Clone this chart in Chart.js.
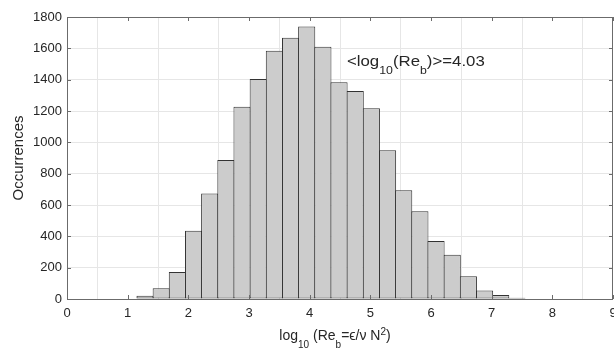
<!DOCTYPE html>
<html>
<head>
<meta charset="utf-8">
<script src="https://cdn.jsdelivr.net/npm/chart.js@4/dist/chart.umd.min.js"></script>
<style>
    html, body { margin: 0; padding: 0; background: #fff; }
    #wrap { width: 614px; height: 349px; }
</style>
</head>
<body>
<div id="wrap"><canvas id="hist"></canvas></div>
<script>
// Данные гистограммы: центры бинов log10(Re_b) и число попаданий
const binCenters = [1.286, 1.553, 1.819, 2.086, 2.352, 2.619, 2.885, 3.152, 3.418, 3.685, 3.951, 4.218,
                    4.484, 4.751, 5.017, 5.284, 5.550, 5.817, 6.083, 6.350, 6.616, 6.883, 7.149, 7.416];
const counts = [20, 68, 172, 436, 674, 887, 1227, 1404, 1585, 1668, 1740, 1610,
                1383, 1327, 1217, 949, 694, 560, 370, 283, 145, 55, 25, 8];
const xTicks = [0, 1, 2, 3, 4, 5, 6, 7, 8, 9];
const yTicks = [0, 200, 400, 600, 800, 1000, 1200, 1400, 1600, 1800];
const meanValue = '4.03';

const FONT = '"Liberation Sans", Arial, Helvetica, sans-serif';
const AXIS_COLOR = '#6b6b6b';
const TEXT_COLOR = '#262626';

// Текст с индексами: части [текст, сдвиг] (1 - нижний индекс, -1 - верхний)
function drawRich(ctx, parts, x, y, opts) {
    const {size, subSize, subShift, supShift, align, stretch} = opts;
    const fontFor = s => (s === 0 ? size : subSize) + 'px ' + FONT;
    let total = 0;
    parts.forEach(([t, s]) => {
        ctx.font = fontFor(s);
        total += ctx.measureText(t).width;
    });
    ctx.save();
    ctx.translate(x, y);
    ctx.scale(stretch || 1, 1);
    let cx = align === 'center' ? -total / 2 : 0;
    ctx.fillStyle = TEXT_COLOR;
    ctx.textBaseline = 'alphabetic';
    ctx.textAlign = 'left';
    parts.forEach(([t, s]) => {
        ctx.font = fontFor(s);
        const dy = s === 1 ? subShift : (s === -1 ? supShift : 0);
        ctx.fillText(t, cx, dy);
        cx += ctx.measureText(t).width;
    });
    ctx.restore();
}

// Рамка осей, засечки внутрь, подпись оси X и среднее значение
const matlabAxes = {
    id: 'matlabAxes',
    afterDraw(chart) {
        const {ctx, chartArea: a, scales: {x, y}} = chart;
        const tl = 4;
        ctx.save();
        ctx.strokeStyle = AXIS_COLOR;
        ctx.lineWidth = 1;
        ctx.beginPath();
        x.ticks.forEach(t => {
            const px = Math.round(x.getPixelForValue(t.value)) + 0.5;
            ctx.moveTo(px, a.bottom); ctx.lineTo(px, a.bottom - tl);
            ctx.moveTo(px, a.top); ctx.lineTo(px, a.top + tl);
        });
        y.ticks.forEach(t => {
            const py = Math.round(y.getPixelForValue(t.value)) + 0.5;
            ctx.moveTo(a.left, py); ctx.lineTo(a.left + tl, py);
            ctx.moveTo(a.right, py); ctx.lineTo(a.right - tl, py);
        });
        ctx.stroke();
        ctx.strokeRect(Math.round(a.left) + 0.5, Math.round(a.top) + 0.5,
                       Math.round(a.right - a.left) - 1, Math.round(a.bottom - a.top));
        ctx.restore();

        // подпись оси X
        drawRich(ctx, [['log', 0], ['10', 1], [' (Re', 0], ['b', 1], ['=', 0], ['\u03F5/\u03BD', 0],
                       [' N', 0], ['2', -1], [')', 0]],
                 335, 340, {size: 14, subSize: 10, subShift: 8, supShift: -5, align: 'center'});

        // среднее значение
        drawRich(ctx, [['<log', 0], ['10', 1], ['(Re', 0], ['b', 1], [')>=' + meanValue, 0]],
                 x.getPixelForValue(4.615), y.getPixelForValue(1485),
                 {size: 15, subSize: 11, subShift: 8, supShift: -6, align: 'left', stretch: 1.12});
    }
};

const ctx = document.getElementById('hist').getContext('2d');
new Chart(ctx, {
    type: 'bar',
    data: {
        datasets: [{
            data: binCenters.map((c, i) => ({x: c, y: counts[i]})),
            backgroundColor: '#cccccc',
            borderColor: '#333333',
            borderWidth: 1,
            borderSkipped: false,
            barPercentage: 1.062,
            categoryPercentage: 1.0
        }]
    },
    options: {
        responsive: true,
        maintainAspectRatio: false,
        animation: false,
        layout: { padding: { top: 17, right: 1, left: 0, bottom: 0 } },
        plugins: {
            legend: { display: false },
            tooltip: { enabled: false }
        },
        scales: {
            x: {
                type: 'linear',
                min: 0,
                max: 9,
                offset: false,
                afterBuildTicks: s => { s.ticks = xTicks.map(v => ({value: v})); },
                afterFit: s => { s.height = 50; s.paddingLeft = 0; s.paddingRight = 0; },
                grid: { color: '#e6e6e6', drawTicks: false },
                border: { display: false },
                ticks: {
                    color: TEXT_COLOR,
                    padding: 7,
                    maxRotation: 0,
                    callback: v => String(v),
                    font: { family: FONT, size: 13 }
                }
            },
            y: {
                min: 0,
                max: 1800,
                afterBuildTicks: s => { s.ticks = yTicks.map(v => ({value: v})); },
                afterFit: s => { s.width = 67; s.paddingTop = 0; s.paddingBottom = 0; },
                grid: { color: '#e6e6e6', drawTicks: false },
                border: { display: false },
                ticks: {
                    color: TEXT_COLOR,
                    padding: 5,
                    callback: v => String(v),
                    font: { family: FONT, size: 13 }
                },
                title: {
                    display: true,
                    text: 'Occurrences',
                    color: TEXT_COLOR,
                    padding: { top: 10, bottom: 0 },
                    font: { family: FONT, size: 15 }
                }
            }
        }
    },
    plugins: [matlabAxes]
});
</script>
</body>
</html>
